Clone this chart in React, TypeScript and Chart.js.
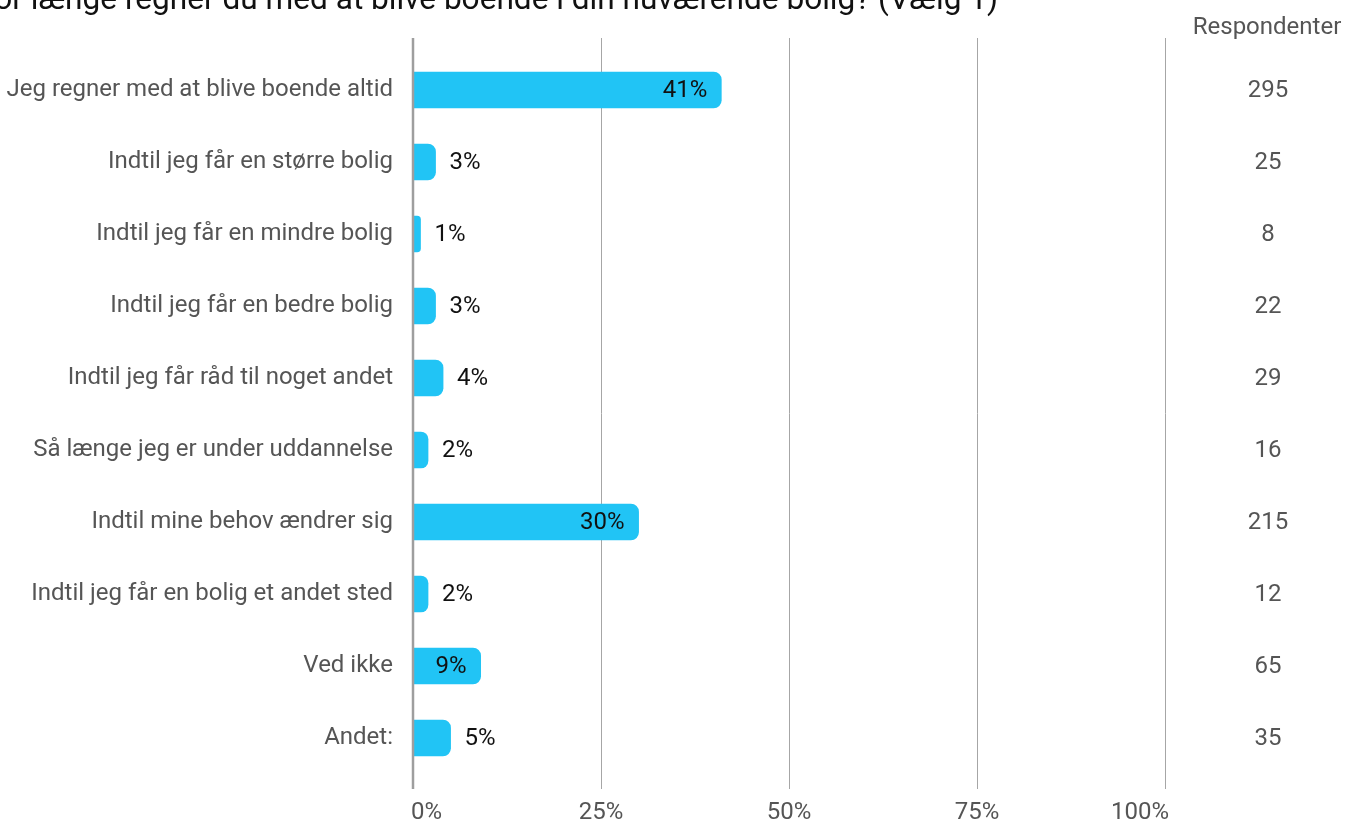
import React, { useEffect, useRef } from "react";
import { Chart, registerables } from "chart.js";

Chart.register(...registerables);

const TITLE = "Hvor længe regner du med at blive boende i din nuværende bolig? (Vælg 1)";
const COUNT_HEADER = "Respondenter";

const categories = [
  "Jeg regner med at blive boende altid",
  "Indtil jeg får en større bolig",
  "Indtil jeg får en mindre bolig",
  "Indtil jeg får en bedre bolig",
  "Indtil jeg får råd til noget andet",
  "Så længe jeg er under uddannelse",
  "Indtil mine behov ændrer sig",
  "Indtil jeg får en bolig et andet sted",
  "Ved ikke",
  "Andet:",
];

const percents = [41, 3, 1, 3, 4, 2, 30, 2, 9, 5];
const respondents = [295, 25, 8, 22, 29, 16, 215, 12, 65, 35];
const xTicks = [0, 25, 50, 75, 100];

const FONT = "Roboto";
const LABEL_GRAY = "#555555";

const overlay = {
  id: "overlay",
  beforeDatasetsDraw(chart: any) {
    const { ctx, chartArea, scales } = chart;
    const x = scales.x;
    const top = chartArea.top - 16;
    const bottom = chartArea.bottom + 15;
    ctx.save();
    xTicks.forEach((v) => {
      if (v === 0) return;
      const px = Math.round(x.getPixelForValue(v)) + 0.5;
      ctx.strokeStyle = "#a6a6a6";
      ctx.lineWidth = 1;
      ctx.beginPath();
      ctx.moveTo(px, top);
      ctx.lineTo(px, bottom);
      ctx.stroke();
    });
    ctx.restore();
  },
  afterDatasetsDraw(chart: any) {
    const { ctx, chartArea, scales } = chart;
    const x = scales.x;
    const top = chartArea.top - 16;
    const bottom = chartArea.bottom + 15;
    ctx.save();
    const ax = x.getPixelForValue(0);
    ctx.strokeStyle = "#9e9e9e";
    ctx.lineWidth = 2.5;
    ctx.beginPath();
    ctx.moveTo(ax, top);
    ctx.lineTo(ax, bottom);
    ctx.stroke();

    const meta = chart.getDatasetMeta(0);
    ctx.font = `24px ${FONT}`;
    ctx.textBaseline = "middle";
    ctx.fillStyle = "#111111";
    meta.data.forEach((bar: any, i: number) => {
      const text = Math.round(percents[i]) + "%";
      const tw = ctx.measureText(text).width;
      const w = bar.x - bar.base;
      if (w >= tw + 28) {
        ctx.textAlign = "right";
        ctx.fillText(text, bar.x - 14, bar.y + 1);
      } else {
        ctx.textAlign = "left";
        ctx.fillText(text, bar.x + 14, bar.y + 1);
      }
    });

    ctx.fillStyle = LABEL_GRAY;
    ctx.textAlign = "center";
    meta.data.forEach((bar: any, i: number) => {
      ctx.fillText(String(respondents[i]), 1268, bar.y + 1);
    });

    const ly = chartArea.bottom + 39;
    xTicks.forEach((v, i) => {
      const px = x.getPixelForValue(v);
      const t = v + "%";
      if (i === 0) {
        ctx.textAlign = "left";
        ctx.fillText(t, px - 2, ly);
      } else if (i === xTicks.length - 1) {
        ctx.textAlign = "right";
        ctx.fillText(t, px + 4, ly);
      } else {
        ctx.textAlign = "center";
        ctx.fillText(t, px, ly);
      }
    });
    ctx.restore();
  },
  afterDraw(chart: any) {
    const { ctx } = chart;
    ctx.save();
    ctx.font = `31.6px ${FONT}`;
    ctx.fillStyle = "#111111";
    ctx.textAlign = "right";
    ctx.textBaseline = "alphabetic";
    ctx.fillText(TITLE, 998, 9);

    ctx.font = `24px ${FONT}`;
    ctx.fillStyle = LABEL_GRAY;
    ctx.textAlign = "center";
    ctx.fillText(COUNT_HEADER, 1267, 34);
    ctx.restore();
  },
};

export default function App() {
  const ref = useRef<HTMLCanvasElement | null>(null);

  useEffect(() => {
    if (!ref.current) return;
    Chart.defaults.font.family = FONT;
    const chart = new Chart(ref.current, {
      type: "bar",
      data: {
        labels: categories,
        datasets: [
          {
            data: percents,
            backgroundColor: "#21C4F5",
            borderWidth: 0,
            barThickness: 36,
            borderRadius: { topLeft: 0, bottomLeft: 0, topRight: 8, bottomRight: 8 },
            borderSkipped: false,
          },
        ],
      },
      options: {
        indexAxis: "y",
        responsive: false,
        animation: false,
        layout: { padding: { top: 54, right: 180, left: 0, bottom: 0 } },
        plugins: {
          legend: { display: false },
          tooltip: { enabled: false },
          title: { display: false },
        },
        scales: {
          x: {
            min: 0,
            max: 100,
            ticks: { display: false },
            grid: { display: false, drawTicks: false },
            border: { display: false },
            afterFit: (s: any) => {
              s.height = 52;
            },
          },
          y: {
            ticks: {
              color: LABEL_GRAY,
              font: { size: 24, family: FONT },
              padding: 20,
            },
            grid: { display: false, drawTicks: false },
            border: { display: false },
            afterFit: (s: any) => {
              s.width = 413;
            },
          },
        },
      },
      plugins: [overlay],
    });
    return () => chart.destroy();
  }, []);

  return (
    <div style={{ position: "fixed", left: 0, top: 0, width: 1345, height: 826, background: "#fff" }}>
      <canvas ref={ref} width={1345} height={826} style={{ width: 1345, height: 826, display: "block" }} />
    </div>
  );
}
